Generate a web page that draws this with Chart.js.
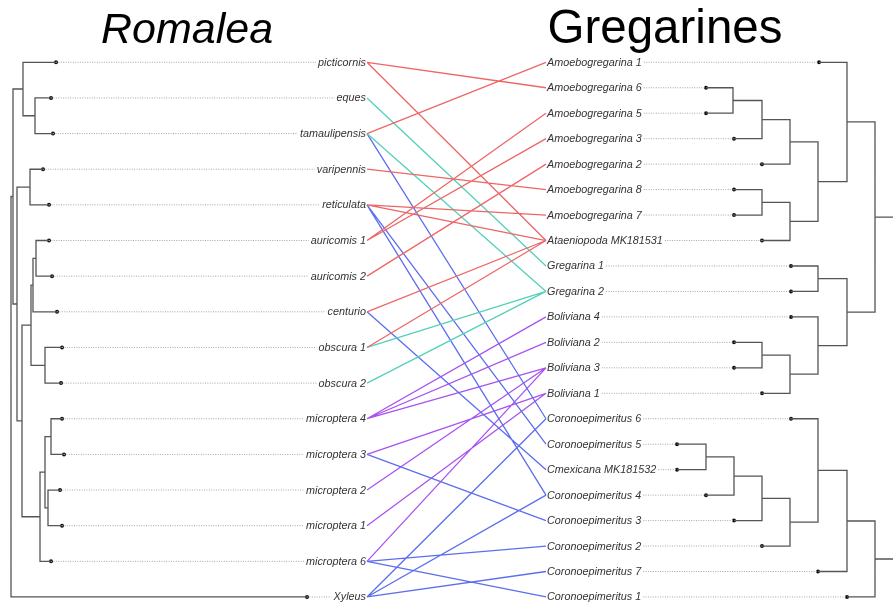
<!DOCTYPE html>
<html>
<head>
<meta charset="utf-8">
<script src="https://cdn.jsdelivr.net/npm/chart.js@4.4.0/dist/chart.umd.min.js"></script>
<style>
  html, body { margin: 0; padding: 0; background: #fff; }
  #tangle { display: block; }
</style>
</head>
<body>
<canvas id="tangle" width="893" height="602"></canvas>
<script>
// host taxa (left tree), top to bottom
const leftTaxa = [
    'picticornis', 'eques', 'tamaulipensis', 'varipennis', 'reticulata',
    'auricomis 1', 'auricomis 2', 'centurio', 'obscura 1', 'obscura 2',
    'microptera 4', 'microptera 3', 'microptera 2', 'microptera 1',
    'microptera 6', 'Xyleus',
];
// tip depth of each host
const leftTipDepth = [56, 51, 53, 43, 49, 49, 52, 57, 62, 61, 62, 64, 60, 62, 51, 307];
// internal nodes: [child, child, depth]; numbers are tips, 'nK' is node K
const leftNodes = [
    [1, 2, 35], [0, 'n0', 23], [3, 4, 30], [5, 6, 36], ['n3', 7, 33],
    [8, 9, 45], ['n4', 'n5', 31], [10, 11, 51], [12, 13, 48], ['n7', 'n8', 45],
    ['n9', 14, 40], ['n6', 'n10', 22], ['n2', 'n11', 17], ['n1', 'n12', 13],
    ['n13', 15, 11],
];

// parasites (right tree), top to bottom
const rightTaxa = [
    'Amoebogregarina 1', 'Amoebogregarina 6', 'Amoebogregarina 5',
    'Amoebogregarina 3', 'Amoebogregarina 2', 'Amoebogregarina 8',
    'Amoebogregarina 7', 'Ataeniopoda MK181531', 'Gregarina 1', 'Gregarina 2',
    'Boliviana 4', 'Boliviana 2', 'Boliviana 3', 'Boliviana 1',
    'Coronoepimeritus 6', 'Coronoepimeritus 5', 'Cmexicana MK181532',
    'Coronoepimeritus 4', 'Coronoepimeritus 3', 'Coronoepimeritus 2',
    'Coronoepimeritus 7', 'Coronoepimeritus 1',
];
const rightTipDepth = [819, 706, 706, 734, 762, 734, 734, 762, 791, 791, 791,
    734, 734, 762, 791, 677, 677, 706, 734, 762, 818, 847];
const rightNodes = [
    [1, 2, 733], ['n0', 3, 762], ['n1', 4, 790], [5, 6, 762], ['n3', 7, 790],
    ['n2', 'n4', 818], [0, 'n5', 847], [8, 9, 818], [11, 12, 762], ['n8', 13, 790],
    [10, 'n9', 818], ['n7', 'n10', 847], ['n6', 'n11', 875], [15, 16, 706],
    ['n13', 17, 734], ['n14', 18, 762], ['n15', 19, 790], [14, 'n16', 818],
    ['n17', 20, 847], ['n18', 21, 875], ['n12', 'n19', 904],
];

// host -> parasite associations
const links = [
    ['picticornis', 'Amoebogregarina 6', 'red'],
    ['picticornis', 'Ataeniopoda MK181531', 'red'],
    ['tamaulipensis', 'Amoebogregarina 1', 'red'],
    ['varipennis', 'Amoebogregarina 8', 'red'],
    ['reticulata', 'Amoebogregarina 7', 'red'],
    ['reticulata', 'Ataeniopoda MK181531', 'red'],
    ['auricomis 1', 'Amoebogregarina 5', 'red'],
    ['auricomis 1', 'Amoebogregarina 3', 'red'],
    ['auricomis 2', 'Amoebogregarina 2', 'red'],
    ['centurio', 'Ataeniopoda MK181531', 'red'],
    ['obscura 1', 'Ataeniopoda MK181531', 'red'],
    ['eques', 'Gregarina 1', 'teal'],
    ['tamaulipensis', 'Gregarina 2', 'teal'],
    ['obscura 1', 'Gregarina 2', 'teal'],
    ['obscura 2', 'Gregarina 2', 'teal'],
    ['tamaulipensis', 'Coronoepimeritus 6', 'blue'],
    ['reticulata', 'Coronoepimeritus 5', 'blue'],
    ['reticulata', 'Coronoepimeritus 4', 'blue'],
    ['centurio', 'Cmexicana MK181532', 'blue'],
    ['microptera 3', 'Coronoepimeritus 3', 'blue'],
    ['microptera 6', 'Coronoepimeritus 2', 'blue'],
    ['microptera 6', 'Coronoepimeritus 1', 'blue'],
    ['Xyleus', 'Coronoepimeritus 6', 'blue'],
    ['Xyleus', 'Coronoepimeritus 4', 'blue'],
    ['Xyleus', 'Coronoepimeritus 7', 'blue'],
    ['microptera 4', 'Boliviana 4', 'purple'],
    ['microptera 4', 'Boliviana 2', 'purple'],
    ['microptera 4', 'Boliviana 3', 'purple'],
    ['microptera 3', 'Boliviana 1', 'purple'],
    ['microptera 2', 'Boliviana 3', 'purple'],
    ['microptera 1', 'Boliviana 1', 'purple'],
    ['microptera 6', 'Boliviana 3', 'purple'],
];

const linkColours = {
    red: 'rgb(238, 102, 102)',
    teal: 'rgb(84, 208, 186)',
    blue: 'rgb(92, 110, 238)',
    purple: 'rgb(168, 82, 240)',
};

const LABEL_FONT = 'italic 10.8px "Liberation Sans", Arial, sans-serif';
const LEFT_EDGE = 366;   // right end of host names
const RIGHT_EDGE = 547;  // left start of parasite names

const gap = () => ({ x: NaN, y: NaN });
const rowL = (i) => i / (leftTaxa.length - 1);
const rowR = (i) => i / (rightTaxa.length - 1);

const measure = document.createElement('canvas').getContext('2d');
measure.font = LABEL_FONT;
const textW = (t) => measure.measureText(t).width;

const treeLines = (tipDepth, nodes, row) => {
    const pos = {};
    tipDepth.forEach((d, i) => { pos[i] = { x: d, y: row(i) }; });
    const pts = [];
    nodes.forEach(([a, b, d], k) => {
        const A = pos[a], B = pos[b];
        pos['n' + k] = { x: d, y: (A.y + B.y) / 2 };
        pts.push({ x: A.x, y: A.y }, { x: d, y: A.y }, { x: d, y: B.y }, { x: B.x, y: B.y }, gap());
    });
    return pts;
};

const leftTree = treeLines(leftTipDepth, leftNodes, rowL);
const rightTree = treeLines(rightTipDepth, rightNodes, rowR);

const leaders = [];
leftTaxa.forEach((t, i) => {
    leaders.push({ x: leftTipDepth[i], y: rowL(i) }, { x: LEFT_EDGE - textW(t) - 2, y: rowL(i) }, gap());
});
rightTaxa.forEach((t, i) => {
    leaders.push({ x: RIGHT_EDGE + textW(t) + 2, y: rowR(i) }, { x: rightTipDepth[i], y: rowR(i) }, gap());
});

const tips = leftTipDepth.map((d, i) => ({ x: d, y: rowL(i) }))
    .concat(rightTipDepth.map((d, i) => ({ x: d, y: rowR(i) })));

const linkSets = Object.keys(linkColours).map((key) => {
    const pts = [];
    links.filter((l) => l[2] === key).forEach(([h, p]) => {
        pts.push({ x: LEFT_EDGE + 1, y: rowL(leftTaxa.indexOf(h)) },
                 { x: RIGHT_EDGE - 1, y: rowR(rightTaxa.indexOf(p)) }, gap());
    });
    return {
        data: pts, showLine: true, pointRadius: 0,
        borderColor: linkColours[key], borderWidth: 1.3,
    };
});

const lineSet = (data, colour, width, dash) => ({
    data, showLine: true, pointRadius: 0, borderColor: colour,
    borderWidth: width, borderDash: dash || [], borderCapStyle: 'butt',
});

const labelsPlugin = {
    id: 'taxonLabels',
    afterDatasetsDraw(chart) {
        const { ctx, scales: { x, y } } = chart;
        ctx.save();
        ctx.font = LABEL_FONT;
        ctx.fillStyle = '#333';
        ctx.textBaseline = 'middle';
        ctx.textAlign = 'right';
        leftTaxa.forEach((t, i) => ctx.fillText(t, x.getPixelForValue(LEFT_EDGE), y.getPixelForValue(rowL(i)) + 0.5));
        ctx.textAlign = 'left';
        rightTaxa.forEach((t, i) => ctx.fillText(t, x.getPixelForValue(RIGHT_EDGE), y.getPixelForValue(rowR(i)) + 0.5));

        ctx.fillStyle = '#000';
        ctx.textAlign = 'center';
        ctx.textBaseline = 'alphabetic';
        ctx.font = 'italic 43px "Liberation Sans", Arial, sans-serif';
        ctx.fillText('Romalea', x.getPixelForValue(187), 43);
        ctx.font = '47.5px "Liberation Sans", Arial, sans-serif';
        ctx.fillText('Gregarines', x.getPixelForValue(665), 43);
        ctx.restore();
    },
};

new Chart(document.getElementById('tangle'), {
    type: 'scatter',
    data: {
        datasets: [
            lineSet(leaders, 'rgb(165, 165, 165)', 1, [1, 1.4]),
            lineSet(leftTree, 'rgb(85, 85, 85)', 1.3),
            lineSet(rightTree, 'rgb(85, 85, 85)', 1.3),
            ...linkSets,
            {
                data: tips, showLine: false, pointRadius: 2,
                pointBackgroundColor: '#111', pointBorderWidth: 0,
            },
        ],
    },
    options: {
        responsive: false,
        animation: false,
        events: [],
        layout: { padding: 0, autoPadding: false },
        plugins: { legend: { display: false }, tooltip: { enabled: false } },
        scales: {
            x: { type: 'linear', display: false, min: 0, max: 893 },
            y: { type: 'linear', display: false, reverse: true, min: -0.1165, max: 1.0094 },
        },
    },
    plugins: [labelsPlugin],
});
</script>
</body>
</html>
